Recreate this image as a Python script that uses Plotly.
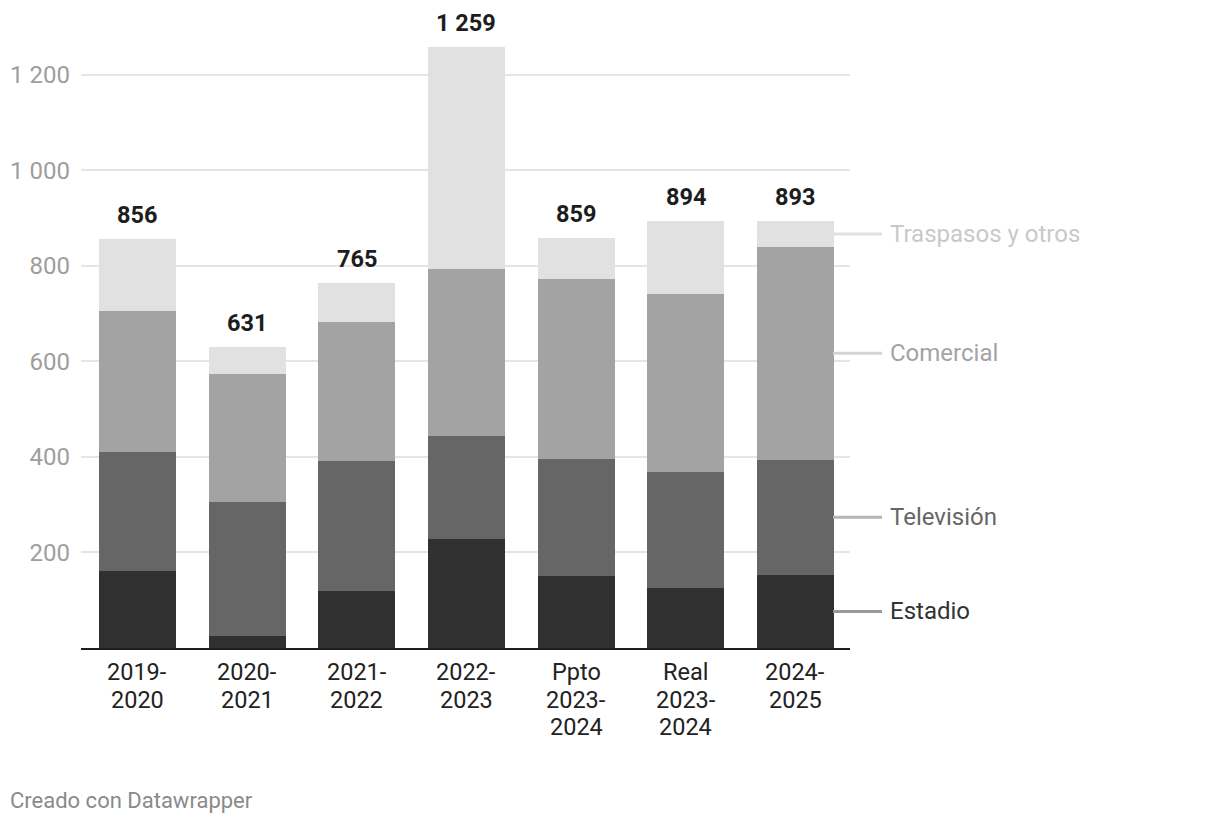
import plotly.graph_objects as go

categories = ["2019-<br>2020", "2020-<br>2021", "2021-<br>2022", "2022-<br>2023",
              "Ppto<br>2023-<br>2024", "Real<br>2023-<br>2024", "2024-<br>2025"]
estadio = [161, 25, 119, 228, 151, 126, 153]
television = [249, 281, 273, 216, 245, 243, 241]
comercial = [296, 268, 291, 350, 377, 372, 446]
traspasos = [150, 57, 82, 465, 86, 153, 53]
totals = [856, 631, 765, 1259, 859, 894, 893]
y_ticks = [200, 400, 600, 800, 1000, 1200]

series = [
    ("Estadio", estadio, "#303030", "#333333", "#999999"),
    ("Televisión", television, "#666666", "#666666", "#b5b5b5"),
    ("Comercial", comercial, "#a3a3a3", "#a3a3a3", "#d3d3d3"),
    ("Traspasos y otros", traspasos, "#e1e1e1", "#c9c9c9", "#e1e1e1"),
]

xs = list(range(len(categories)))
FONT = "Roboto"
W, H = 1212, 816
L, T, PW, PH = 73, 19, 769, 621
fig = go.Figure()
for name, vals, color, _, _ in series:
    fig.add_trace(go.Bar(x=xs, y=vals, name=name, marker=dict(color=color, line=dict(width=0)),
                         width=0.702, hoverinfo="y+name"))

def fmt(v):
    return f"{v:,}".replace(",", " ")

for x, t in zip(xs, totals):
    fig.add_annotation(x=x, y=t, text=f"<b>{fmt(t)}</b>", showarrow=False, yanchor="middle",
                       yshift=24, font=dict(family=FONT, size=23.5, color="#1d1d1d"))

# category labels, one annotation per line for tighter line spacing
for x, cat in zip(xs, categories):
    for i, line in enumerate(cat.split("<br>")):
        fig.add_annotation(x=x, xref="x", yref="paper", y=0, yshift=-(24 + 27.5 * i),
                           text=line, showarrow=False, yanchor="middle",
                           font=dict(family=FONT, size=23.5, color="#222222"))

# direct labels on the right, at midpoints of the last bar's segments
last = len(xs) - 1
base = 0
for name, vals, _, tcolor, lcolor in series:
    mid = base + vals[last] / 2
    base += vals[last]
    fig.add_shape(type="line", xref="paper", yref="y", x0=(825 - L) / PW, x1=(874 - L) / PW,
                  y0=mid, y1=mid, line=dict(color=lcolor, width=3))
    fig.add_annotation(xref="paper", x=(880 - L) / PW, y=mid, text=name, showarrow=False,
                       xanchor="left", yanchor="middle",
                       font=dict(family=FONT, size=24, color=tcolor))

fig.add_annotation(xref="paper", yref="paper", x=(0 - L) / PW, y=(T + PH - 792) / PH,
                   xanchor="left", yanchor="middle", text="Creado con Datawrapper",
                   showarrow=False, font=dict(family=FONT, size=22, color="#8a8a8a"))

fig.update_layout(
    barmode="stack", width=W, height=H, showlegend=False,
    margin=dict(l=L, r=W - L - PW, t=T, b=H - T - PH, autoexpand=False),
    plot_bgcolor="white", paper_bgcolor="white", separators=", ",
    font=dict(family=FONT),
    xaxis=dict(tickvals=xs, showticklabels=False, range=[-0.515, len(xs) - 0.503],
               showline=True, linecolor="#1d1d1d", linewidth=2, showgrid=False, ticks="",
               automargin=False),
    yaxis=dict(range=[0, 1300], tickvals=y_ticks, ticktext=[fmt(v) for v in y_ticks],
               showgrid=True, gridcolor="#e5e5e5", gridwidth=1.5, zeroline=False,
               ticks="", ticklabelstandoff=10, automargin=False,
               tickfont=dict(family=FONT, size=24, color="#9e9e9e")),
)
fig.write_html("out.html")
